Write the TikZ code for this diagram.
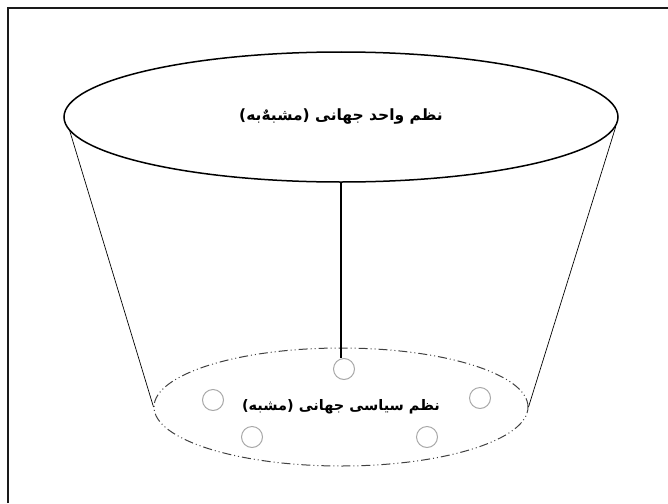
\documentclass[tikz,border=0pt]{standalone}
\usepackage{fontspec}
\usepackage{xcolor}
\usepackage{tikz}
\usetikzlibrary{shapes.geometric, positioning, calc}
\TeXXeTstate=1
\newfontfamily\farsifont[Script=Arabic]{DejaVu Sans}
\definecolor{frameink}{HTML}{1A1A1A}
\definecolor{dashgray}{HTML}{404040}
\definecolor{dotgray}{HTML}{A8A8A8}
\tikzset{
  wholeell/.style={draw=black, ellipse, line width=1.5pt, minimum width=554pt, minimum height=130pt,
    inner sep=0pt, font=\farsifont\bfseries\fontsize{15.5}{18}\selectfont},
  partell/.style={draw=dashgray, ellipse, line width=1pt, minimum width=374pt, minimum height=118pt,
    inner sep=0pt, dash pattern=on 9pt off 3pt on 1pt off 3pt on 1pt off 3pt,
    font=\farsifont\bfseries\fontsize{14.5}{17}\selectfont},
  dot/.style={draw=dotgray, circle, line width=1pt, minimum size=21pt, inner sep=0pt},
  side/.style={draw=black, line width=0.7pt},
  tie/.style={draw=black, line width=2.4pt}
}

\begin{document}
\begin{tikzpicture}[x=1pt, y=-1pt]
\useasboundingbox (0,0) rectangle (668,503);
\draw[frameink, line width=2pt] (8,503) -- (8,8) -- (668,8);
\node[wholeell] (whole) at (341,117) {\beginR نظم واحد جهانی (مشبهٌ‌به)\endR};
\node[partell] (part) at (341,407) {\beginR نظم سیاسی جهانی (مشبه)\endR};
\node[dot] (d1) at (344,369) {};
\node[dot] (d2) at (213,400) {};
\node[dot] (d3) at (480,398) {};
\node[dot] (d4) at (252,437) {};
\node[dot] (d5) at (427,437) {};
\draw[side] (whole.183) -- (part.west);
\draw[side] (whole.358) -- (part.east);
\draw[tie] (whole.south) -- (whole.south |- d1.north);
\end{tikzpicture}
\end{document}
